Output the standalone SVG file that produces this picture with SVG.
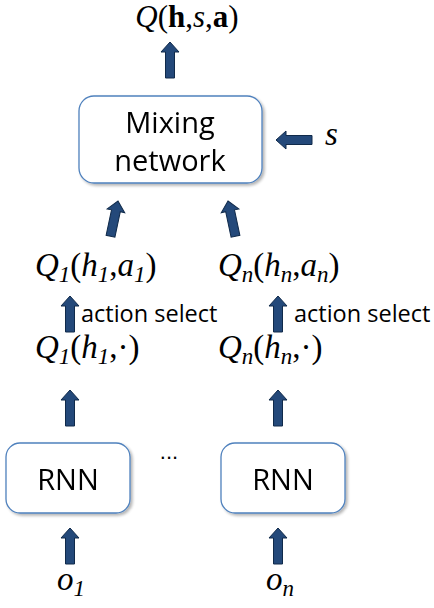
<svg xmlns="http://www.w3.org/2000/svg" xmlns:xlink="http://www.w3.org/1999/xlink" width="434" height="608" viewBox="0 0 434 608">
<defs>
<polygon id="arr" points="0,0 9,10 4.5,10 4.5,36 -4.5,36 -4.5,10 -9,10" fill="#24497a" stroke="#102a4a" stroke-width="1"/>
<filter id="sh" x="-10%" y="-10%" width="130%" height="130%">
<feGaussianBlur in="SourceAlpha" stdDeviation="1.5"/>
<feOffset dx="1.5" dy="2" result="b"/>
<feComponentTransfer><feFuncA type="linear" slope="0.3"/></feComponentTransfer>
<feMerge><feMergeNode/><feMergeNode in="SourceGraphic"/></feMerge>
</filter>
</defs>
<style>
.box{fill:#fff;stroke:#4f81bd;stroke-width:1.3}
.lbl{font-family:"Open Sans","Liberation Sans",sans-serif;font-size:29px;fill:#000;text-anchor:middle}
.math{font-family:"Liberation Serif",serif;font-size:33px;font-style:italic;fill:#000}
.up{font-style:normal}
.b{font-weight:bold;font-style:normal}
.sub{font-size:23px}
.as{font-family:"Open Sans","Liberation Sans",sans-serif;font-size:23.5px;fill:#000}
</style>
<rect width="434" height="608" fill="#fff"/>
<g id="q-total"><text class="math" x="187" y="27" text-anchor="middle" style="font-size:31px">Q<tspan class="up">(</tspan><tspan class="b">h</tspan><tspan class="up">,</tspan>s<tspan class="up">,</tspan><tspan class="b">a</tspan><tspan class="up">)</tspan></text></g>
<g id="mixing" filter="url(#sh)"><rect class="box" x="79" y="96" width="183" height="87" rx="15"/><text class="lbl" x="170" y="133">Mixing</text><text class="lbl" x="170" y="171">network</text></g>
<g id="s-in"><text class="math" x="325" y="145">s</text></g>
<g id="q1a"><text class="math" x="35" y="276">Q<tspan class="sub" dy="6">1</tspan><tspan class="up" dy="-6">(</tspan>h<tspan class="sub" dy="6">1</tspan><tspan class="up" dy="-6">,</tspan>a<tspan class="sub" dy="6">1</tspan><tspan class="up" dy="-6">)</tspan></text></g>
<g id="qna"><text class="math" x="218" y="276">Q<tspan class="sub" dy="6">n</tspan><tspan class="up" dy="-6">(</tspan>h<tspan class="sub" dy="6">n</tspan><tspan class="up" dy="-6">,</tspan>a<tspan class="sub" dy="6">n</tspan><tspan class="up" dy="-6">)</tspan></text></g>
<g id="as1"><text class="as" x="81" y="322">action select</text></g>
<g id="asn"><text class="as" x="294" y="322">action select</text></g>
<g id="q1"><text class="math" x="35" y="358">Q<tspan class="sub" dy="6">1</tspan><tspan class="up" dy="-6">(</tspan>h<tspan class="sub" dy="6">1</tspan><tspan class="up" dy="-6">,·)</tspan></text></g>
<g id="qn"><text class="math" x="218" y="358">Q<tspan class="sub" dy="6">n</tspan><tspan class="up" dy="-6">(</tspan>h<tspan class="sub" dy="6">n</tspan><tspan class="up" dy="-6">,·)</tspan></text></g>
<g id="rnn1" filter="url(#sh)"><rect class="box" x="6" y="443" width="124" height="70" rx="14"/><text class="lbl" x="68" y="490">RNN</text></g>
<g id="dots"><text x="169" y="459" font-family="Liberation Sans,sans-serif" font-size="22" text-anchor="middle">...</text></g>
<g id="rnnn" filter="url(#sh)"><rect class="box" x="221" y="443" width="124" height="70" rx="14"/><text class="lbl" x="283" y="490">RNN</text></g>
<g id="o1"><text class="math" x="57" y="590">o<tspan class="sub" dy="6">1</tspan></text></g>
<g id="on"><text class="math" x="266" y="590">o<tspan class="sub" dy="6">n</tspan></text></g>
<g id="connectors">
<use xlink:href="#arr" transform="translate(170,42)"/>
<use xlink:href="#arr" transform="translate(276,140) rotate(-90)"/>
<use xlink:href="#arr" transform="translate(118,201) rotate(12)"/>
<use xlink:href="#arr" transform="translate(228,201) rotate(-12)"/>
<use xlink:href="#arr" transform="translate(70,296)"/>
<use xlink:href="#arr" transform="translate(278,296)"/>
<use xlink:href="#arr" transform="translate(70,390)"/>
<use xlink:href="#arr" transform="translate(278,390)"/>
<use xlink:href="#arr" transform="translate(70,528)"/>
<use xlink:href="#arr" transform="translate(278,528)"/>
</g>
</svg>
